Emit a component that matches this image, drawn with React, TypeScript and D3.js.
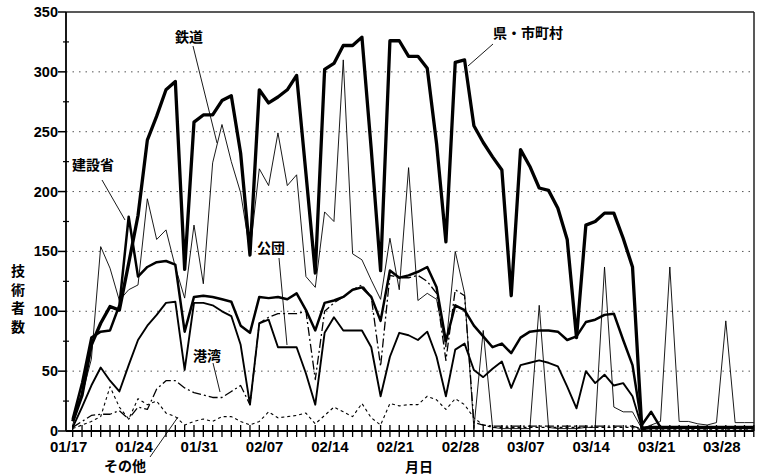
import React from 'react';
import * as d3 from 'd3';

// daily counts, 01/17 .. 03/31
const ken = [8, 30, 72, 90, 104, 101, 140, 180, 243, 263, 285, 292, 135, 258, 264, 264, 276, 280, 232, 147,
  285, 274, 279, 285, 297, 215, 132, 302, 307, 322, 322, 329, 235, 134, 326, 326, 313, 313, 303, 240,
  158, 308, 310, 255, 241, 229, 218, 113, 235, 221, 203, 201, 186, 160, 78, 172, 175, 182, 182, 161,
  137, 2, 3, 3, 3, 3, 3, 3, 3, 3, 3, 3, 3, 3];
const kensetsu = [10, 40, 78, 83, 84, 105, 179, 129, 137, 141, 142, 139, 83, 112, 113, 112, 110, 108, 88, 82,
  112, 111, 112, 110, 115, 101, 84, 107, 109, 112, 118, 120, 112, 92, 134, 128, 130, 133, 137, 120,
  75, 105, 101, 88, 79, 70, 73, 65, 78, 83, 84, 84, 83, 76, 79, 91, 93, 97, 98, 76,
  55, 5, 16, 3, 3, 3, 3, 3, 3, 3, 3, 3, 3, 3];
const kodan = [3, 20, 38, 53, 42, 33, 55, 76, 88, 97, 107, 108, 51, 107, 107, 105, 100, 96, 72, 22,
  90, 93, 70, 70, 70, 48, 22, 82, 95, 84, 84, 84, 70, 29, 62, 82, 80, 76, 83, 62,
  29, 68, 73, 51, 45, 52, 58, 36, 55, 57, 59, 57, 54, 37, 19, 50, 40, 47, 38, 40,
  29, 3, 3, 3, 3, 3, 3, 3, 3, 3, 3, 3, 3, 3];
const tetsudo = [5, 30, 60, 154, 136, 109, 118, 122, 194, 160, 168, 137, 111, 172, 123, 224, 256, 225, 199, 150,
  219, 205, 249, 205, 214, 129, 120, 183, 175, 310, 148, 143, 126, 110, 161, 118, 220, 109, 115, 110,
  70, 150, 115, 2, 84, 3, 2, 2, 2, 2, 105, 3, 2, 2, 2, 3, 3, 137, 20, 16,
  16, 2, 5, 8, 137, 8, 8, 6, 5, 7, 92, 7, 7, 7];
const kowan = [3, 8, 13, 14, 14, 17, 10, 20, 18, 35, 42, 42, 36, 32, 30, 28, 28, 33, 38, 22,
  90, 95, 98, 98, 98, 100, 43, 100, 107, 112, 118, 122, 112, 54, 130, 128, 128, 130, 125, 115,
  59, 118, 113, 7, 5, 4, 4, 4, 4, 4, 4, 4, 4, 4, 4, 4, 4, 4, 4, 4,
  4, 2, 2, 2, 2, 2, 2, 2, 2, 2, 2, 2, 2, 2];
const sonota = [2, 5, 8, 12, 37, 20, 10, 27, 22, 25, 15, 12, 5, 8, 10, 8, 12, 12, 8, 5,
  8, 16, 11, 12, 13, 15, 6, 13, 20, 16, 12, 23, 11, 5, 23, 21, 22, 22, 29, 26,
  18, 27, 22, 11, 5, 3, 3, 3, 3, 3, 3, 3, 3, 3, 3, 3, 3, 3, 3, 3,
  3, 1, 1, 1, 1, 1, 1, 1, 1, 1, 1, 1, 1, 1];

const xTickLabels = ['01/17', '01/24', '01/31', '02/07', '02/14', '02/21', '02/28', '03/07', '03/14', '03/21', '03/28'];
const yTicks = [0, 50, 100, 150, 200, 250, 300, 350];

const JP = '"Noto Sans CJK JP", "Noto Sans CJK SC", sans-serif';
const NUM = '"Liberation Sans", Arial, sans-serif';

export default function App() {
  const width = 761, height = 475;
  const left = 66, right = 754, top = 12, bottom = 431;

  const x = d3.scaleLinear().domain([0, 73]).range([72.7, 753.8]);
  const y = d3.scaleLinear().domain([0, 350]).range([bottom, top]);
  const line = d3.line<number>().x((_, i) => x(i)).y(v => y(v));

  const days = d3.range(0, 74);
  const minorY = d3.range(25, 350, 50);

  const series = [
    { data: sonota, w: 1.1, dash: '3,3' },
    { data: kowan, w: 1.3, dash: '9,3,2,3' },
    { data: tetsudo, w: 0.9, dash: null },
    { data: kodan, w: 1.9, dash: null },
    { data: kensetsu, w: 2.5, dash: null },
    { data: ken, w: 3.3, dash: null },
  ];

  const yTitle = ['技', '術', '者', '数'];

  return (
    <svg width={width} height={height} style={{ position: 'absolute', left: 0, top: 0, background: '#fff' }}>
      {/* grid */}
      {yTicks.filter(t => t > 0 && t < 350).map(t => (
        <line key={'g' + t} x1={left} x2={right} y1={y(t)} y2={y(t)} stroke="#555" strokeWidth={1} strokeDasharray="1.5,5" />
      ))}
      {/* frame */}
      <line x1={left} x2={right} y1={top} y2={top} stroke="#222" strokeWidth={1.5} />
      <line x1={right} x2={right} y1={top} y2={bottom} stroke="#222" strokeWidth={1.5} />
      <line x1={left} x2={left} y1={top} y2={bottom} stroke="#000" strokeWidth={1.8} />
      <line x1={left} x2={right} y1={bottom} y2={bottom} stroke="#000" strokeWidth={1.8} />
      {/* y ticks */}
      {yTicks.map(t => (
        <g key={'y' + t}>
          <line x1={left - 8} x2={left} y1={y(t)} y2={y(t)} stroke="#000" strokeWidth={1.5} />
          <text x={left - 8} y={y(t) + 5} textAnchor="end" fontFamily={NUM} fontWeight="bold" fontSize={14.5}>{t}</text>
        </g>
      ))}
      {minorY.map(t => (
        <line key={'m' + t} x1={left - 3} x2={left + 3} y1={y(t)} y2={y(t)} stroke="#000" strokeWidth={1.2} />
      ))}
      {/* x ticks */}
      {days.map(d => (
        <line key={'x' + d} x1={x(d)} x2={x(d)} y1={bottom - 6} y2={bottom + 6} stroke="#000" strokeWidth={1.3} />
      ))}
      {xTickLabels.map((lab, i) => (
        <text key={lab} x={x(i * 7) - 4} y={452} textAnchor="middle" fontFamily={NUM} fontWeight="bold" fontSize={15}>{lab}</text>
      ))}
      {/* series */}
      {series.map((s, i) => (
        <path key={i} d={line(s.data) || ''} fill="none" stroke="#000" strokeWidth={s.w}
          strokeDasharray={s.dash || undefined} strokeLinejoin="round" />
      ))}
      {/* labels */}
      <g fontFamily={JP} fontWeight="bold" fontSize={14} fill="#000">
        <text x={175} y={42}>鉄道</text>
        <line x1={193} y1={46} x2={217} y2={143} stroke="#000" strokeWidth={0.9} />
        <text x={493} y={38}>県・市町村</text>
        <line x1={493} y1={44} x2={468} y2={66} stroke="#000" strokeWidth={0.9} />
        <text x={72} y={170}>建設省</text>
        <line x1={102} y1={180} x2={125} y2={220} stroke="#000" strokeWidth={0.9} />
        <text x={257} y={253}>公団</text>
        <line x1={279} y1={258} x2={287} y2={345} stroke="#000" strokeWidth={0.9} />
        <text x={193} y={361}>港湾</text>
        <line x1={213} y1={363} x2={220} y2={392} stroke="#000" strokeWidth={0.9} />
        <text x={104} y={471}>その他</text>
        <line x1={150} y1={457} x2={178} y2={417} stroke="#000" strokeWidth={0.9} />
        <text x={405} y={471.5}>月日</text>
        {yTitle.map((c, i) => (
          <text key={c} x={11} y={276 + i * 18.5}>{c}</text>
        ))}
      </g>
    </svg>
  );
}
